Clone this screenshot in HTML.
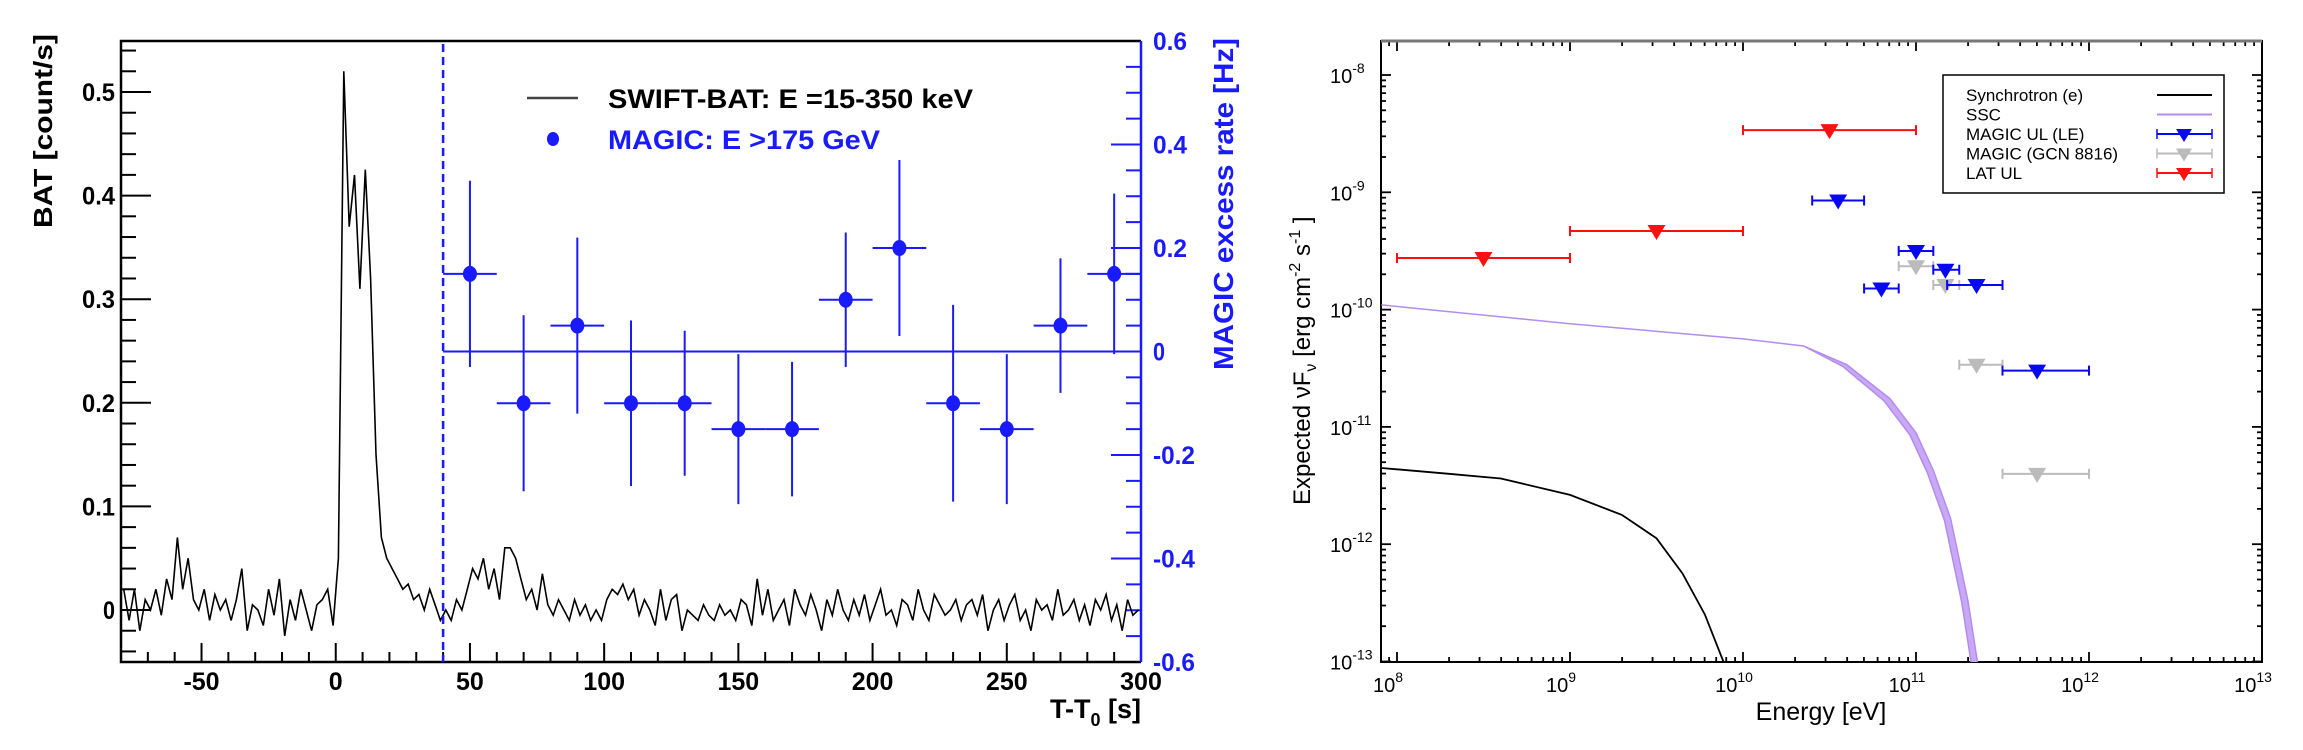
<!DOCTYPE html>
<html><head><meta charset="utf-8"><style>
html,body{margin:0;padding:0;background:#fff;}
svg{display:block;}
text{font-family:"Liberation Sans",sans-serif;}
</style></head><body>
<svg id="fig" width="2303" height="750" viewBox="0 0 2303 750" xmlns="http://www.w3.org/2000/svg">
<g id="left"></g>
<g id="right"></g>
</svg>
<script>
// ---------- Left panel data ----------
const batStart = -79; const batStep = 2;
const batRate = [0.02,-0.01,0.02,-0.02,0.01,0.0,0.02,-0.005,0.03,0.01,
0.07,0.02,0.05,0.01,0.0,0.02,-0.01,0.015,0.0,0.01,
-0.01,0.01,0.04,-0.02,0.005,0.0,-0.015,0.02,-0.005,0.03,
-0.025,0.01,-0.01,0.02,0.0,-0.02,0.005,0.01,0.02,-0.015,
0.05,0.52,0.37,0.42,0.31,0.425,0.32,0.15,0.07,0.05,0.04,0.03,0.02,0.025,0.01,0.015,0.0,0.02,0.005,-0.01,
0.0,-0.01,0.01,0.0,0.02,0.04,0.03,0.05,0.02,0.04,
0.01,0.06,0.06,0.05,0.03,0.01,0.02,0.0,0.035,0.005,
-0.005,0.01,0.0,-0.01,0.01,-0.005,0.005,-0.01,0.0,-0.01,
0.01,0.02,0.015,0.025,0.01,0.02,-0.005,0.01,0.0,-0.015,
0.02,-0.01,0.01,0.015,-0.02,0.0,-0.005,-0.01,0.005,-0.005,
-0.01,0.005,-0.005,0.0,-0.01,0.01,0.005,-0.015,0.03,-0.005,
0.02,-0.01,0.0,0.01,-0.015,0.02,0.005,-0.005,0.015,0.0,
-0.02,0.01,-0.005,0.02,0.0,-0.01,0.01,-0.005,0.015,-0.01,
0.005,0.02,-0.005,0.0,-0.015,0.01,0.005,-0.01,0.02,0.0,
-0.01,0.015,0.005,-0.005,0.0,0.01,-0.01,0.005,0.01,-0.005,
0.015,-0.02,0.0,0.01,-0.01,0.005,0.015,-0.01,0.0,-0.02,
0.01,0.0,0.005,-0.01,0.02,-0.005,0.0,0.01,-0.01,0.005,
-0.015,0.01,0.0,0.015,-0.01,0.005,-0.02,0.01,-0.005,0.0];
const magicT = [50,70,90,110,130,150,170,190,210,230,250,270,290];
const magicRate = [0.15,-0.1,0.05,-0.1,-0.1,-0.15,-0.15,0.1,0.2,-0.1,-0.15,0.05,0.15];
const magicErr = [0.18,0.17,0.17,0.16,0.14,0.145,0.13,0.13,0.17,0.19,0.145,0.13,0.155];
const magicXErr = 10;
const xTicksL = [-50,0,50,100,150,200,250,300];
const yTicksL = [0,0.1,0.2,0.3,0.4,0.5];
const yTicksR = [-0.6,-0.4,-0.2,0,0.2,0.4,0.6];

// ---------- Right panel data ----------
const syncLogE = [7.91,8.3,8.6,9.0,9.3,9.5,9.65,9.78,9.9];
const syncLogF = [-11.35,-11.4,-11.44,-11.58,-11.75,-11.95,-12.25,-12.6,-13.05];
const sscLogE = [7.91,9.0,10.0,10.35,10.6,10.85,11.0,11.1,11.2,11.3,11.36];
const sscLogF = [-9.96,-10.12,-10.25,-10.31,-10.47,-10.76,-11.05,-11.37,-11.78,-12.48,-13.05];
const latE = [8.5,9.5,10.5]; const latLo=[8,9,10]; const latHi=[9,10,11];
const latF = [-9.56,-9.33,-8.47];
const leE = [10.55,11.0,11.17,10.8,11.35,11.7]; const leLo=[10.4,10.9,11.1,10.7,11.18,11.5]; const leHi=[10.7,11.1,11.25,10.9,11.5,12];
const leF = [-9.07,-9.5,-9.66,-9.82,-9.79,-10.52];
const gcnE = [11.0,11.17,11.35,11.7]; const gcnLo=[10.9,11.1,11.25,11.5]; const gcnHi=[11.1,11.25,11.5,12];
const gcnF = [-9.63,-9.79,-10.47,-11.4];
const xDecR = [8,9,10,11,12,13];
const yDecR = [-13,-12,-11,-10,-9,-8];

const NS="http://www.w3.org/2000/svg";
function mk(parent,tag,attrs,txt){const e=document.createElementNS(NS,tag);for(const k in attrs)e.setAttribute(k,attrs[k]);if(txt!==undefined)e.textContent=txt;parent.appendChild(e);return e;}

// ===== Left panel =====
const L=document.getElementById('left');
const lx0=121,lx1=1141,ly0=41,ly1=662;
const xL=t=>lx0+(t+80)*(lx1-lx0)/380;
const yL=v=>610-v*1036;
const yR=v=>351.5-v*517.5;
for(let v=-0.04;v<=0.545;v+=0.02){const r=Math.round(v*100);const maj=r%10===0;
 const e=mk(L,'line',{x1:lx0,x2:lx0+(maj?30:15),y1:yL(v),y2:yL(v),stroke:'#000','stroke-width':2});
 }
yTicksL.forEach(v=>{const e=mk(L,'text',{x:115,y:yL(v)+9,'text-anchor':'end','font-size':25,'font-weight':'bold',fill:'#000',textLength:v===0?12:33,lengthAdjust:'spacingAndGlyphs'},v===0?'0':v.toFixed(1));
 });
for(let t=-70;t<=300;t+=10){const maj=t%50===0;
 const e=mk(L,'line',{x1:xL(t),x2:xL(t),y1:ly1,y2:ly1-(maj?19:10),stroke:'#000','stroke-width':2});
 }
xTicksL.forEach(t=>{const e=mk(L,'text',{x:xL(t),y:690,'text-anchor':'middle','font-size':25,'font-weight':'bold',fill:'#000'},String(t));
 });
for(let v=-0.55;v<=0.56;v+=0.05){const r=Math.round(v*100);const maj=r%20===0;
 const e=mk(L,'line',{x1:lx1,x2:lx1-(maj?30:15),y1:yR(v),y2:yR(v),stroke:'#1a1aff','stroke-width':2});
 }
yTicksR.forEach(v=>{const e=mk(L,'text',{x:1153,y:yR(v)+9,'font-size':25,'font-weight':'bold',fill:'#1a1aff',textLength:v===0?12:(v<0?42:34),lengthAdjust:'spacingAndGlyphs'},v===0?'0':v.toFixed(1));
 });
let f=mk(L,'polyline',{points:`${lx1},${ly0} ${lx0},${ly0} ${lx0},${ly1} ${lx1},${ly1}`,fill:'none',stroke:'#000','stroke-width':2.5});

f=mk(L,'line',{x1:lx1,x2:lx1,y1:ly0,y2:ly1,stroke:'#1a1aff','stroke-width':2.5});

let pts=batRate.map((v,i)=>`${xL(batStart+i*batStep).toFixed(1)},${yL(v).toFixed(1)}`).join(' ');
f=mk(L,'polyline',{points:pts,fill:'none',stroke:'#000','stroke-width':1.6});

f=mk(L,'line',{x1:xL(40),x2:xL(40),y1:ly0+3,y2:ly1,stroke:'#1a1aff','stroke-width':2.5,'stroke-dasharray':'8,5'});

f=mk(L,'line',{x1:xL(40),x2:lx1,y1:yR(0),y2:yR(0),stroke:'#1a1aff','stroke-width':2});

magicT.forEach((t,i)=>{const g=mk(L,'g',{});
 
 mk(g,'line',{x1:xL(t-magicXErr),x2:xL(t+magicXErr),y1:yR(magicRate[i]),y2:yR(magicRate[i]),stroke:'#1a1aff','stroke-width':2});
 mk(g,'line',{x1:xL(t),x2:xL(t),y1:yR(magicRate[i]+magicErr[i]),y2:yR(magicRate[i]-magicErr[i]),stroke:'#1a1aff','stroke-width':2});
 mk(g,'ellipse',{cx:xL(t),cy:yR(magicRate[i]),rx:7,ry:8,fill:'#1a1aff'});});
f=mk(L,'line',{x1:527,x2:578,y1:98,y2:98,stroke:'#444','stroke-width':2.5});

f=mk(L,'text',{x:608,y:108,'font-size':27,'font-weight':'bold',fill:'#000',textLength:365,lengthAdjust:'spacingAndGlyphs'},'SWIFT-BAT: E =15-350 keV');

f=mk(L,'ellipse',{cx:553,cy:139,rx:6,ry:7,fill:'#1a1aff'});

f=mk(L,'text',{x:608,y:149,'font-size':27,'font-weight':'bold',fill:'#1a1aff',textLength:272,lengthAdjust:'spacingAndGlyphs'},'MAGIC: E >175 GeV');

f=mk(L,'text',{x:0,y:0,transform:'translate(52,228) rotate(-90)','font-size':26,'font-weight':'bold',fill:'#000',textLength:194,lengthAdjust:'spacingAndGlyphs'},'BAT [count/s]');

f=mk(L,'text',{x:0,y:0,transform:'translate(1233,370) rotate(-90)','font-size':28,'font-weight':'bold',fill:'#1a1aff',textLength:332,lengthAdjust:'spacingAndGlyphs'},'MAGIC excess rate [Hz]');

f=mk(L,'text',{x:1050,y:718,'font-size':27,'font-weight':'bold',fill:'#000'});

mk(f,'tspan',{},'T-T');mk(f,'tspan',{dy:8,'font-size':18},'0');mk(f,'tspan',{dy:-8},' [s]');

// ===== Right panel =====
const R=document.getElementById('right');
const rx0=1381,rx1=2262,ry0=41,ry1=662;
const xE=le=>1397+(le-8)*173;
const yF=lf=>75+(-8-lf)*117.3;
for(let d=7;d<13;d++)for(let k=1;k<10;k++){const le=d+Math.log10(k);const x=xE(le);if(x<rx0||x>rx1)continue;
 const len=k===1?10:5;
 [[ry1,ry1-len],[ry0,ry0+len]].forEach(p=>{const e=mk(R,'line',{x1:x,x2:x,y1:p[0],y2:p[1],stroke:'#000','stroke-width':1.8});
 });}
for(let d=-14;d<-7;d++)for(let k=1;k<10;k++){const lf=d+Math.log10(k);const y=yF(lf);if(y<ry0||y>ry1)continue;
 const len=k===1?10:5;
 [[rx0,rx0+len],[rx1,rx1-len]].forEach(p=>{const e=mk(R,'line',{x1:p[0],x2:p[1],y1:y,y2:y,stroke:'#000','stroke-width':1.8});
 });}
f=mk(R,'rect',{x:rx0,y:ry0,width:rx1-rx0,height:ry1-ry0,fill:'none',stroke:'#000','stroke-width':2});

f=mk(R,'line',{x1:rx0,x2:rx1,y1:ry0,y2:ry0,stroke:'#777','stroke-width':3});

xDecR.forEach(d=>{const e=mk(R,'text',{x:xE(d)-9,y:692,'font-size':20,fill:'#000','text-anchor':'middle'});
 
 mk(e,'tspan',{},'10');mk(e,'tspan',{dy:-10,'font-size':14},String(d));});
yDecR.forEach(d=>{const e=mk(R,'text',{x:1330,y:yF(d)+8,'font-size':20,fill:'#000'});
 
 mk(e,'tspan',{},'10');mk(e,'tspan',{dy:-10,'font-size':14},String(d));});
f=mk(R,'text',{x:1821,y:720,'font-size':25,fill:'#000','text-anchor':'middle'},'Energy [eV]');

f=mk(R,'text',{x:0,y:0,transform:'translate(1310,505) rotate(-90)','font-size':24,fill:'#000'});

mk(f,'tspan',{},'Expected νF');mk(f,'tspan',{dy:6,'font-size':16},'ν');mk(f,'tspan',{dy:-6},' [erg cm');
mk(f,'tspan',{dy:-10,'font-size':16},'-2');mk(f,'tspan',{dy:10},' s');mk(f,'tspan',{dy:-10,'font-size':16},'-1');mk(f,'tspan',{dy:10},' ]');
const cp=mk(R,'clipPath',{id:'rclip'});mk(cp,'rect',{x:rx0,y:ry0,width:rx1-rx0,height:ry1-ry0});
const cg=mk(R,'g',{'clip-path':'url(#rclip)'});

pts=syncLogE.map((e,i)=>`${xE(e).toFixed(1)},${yF(syncLogF[i]).toFixed(1)}`).join(' ');
f=mk(cg,'polyline',{points:pts,fill:'none',stroke:'#000','stroke-width':1.8});

// SSC band: upper edge is the curve, lower edge slightly shifted to the left in the cutoff
const upper=sscLogE.map((e,i)=>`${xE(e).toFixed(1)},${yF(sscLogF[i]).toFixed(1)}`);
const lower=sscLogE.map((e,i)=>{const w=(e>10.35?Math.min(0.035,(e-10.35)*0.1):0);return `${(xE(e)-w*173).toFixed(1)},${(yF(sscLogF[i])+w*60).toFixed(1)}`;}).reverse();
f=mk(cg,'polygon',{points:upper.concat(lower).join(' '),fill:'#c9a8f5',stroke:'#b38cf0','stroke-width':1.5});

function ul(E,lo,hi,F,col,name){E.forEach((e,i)=>{const g=mk(cg,'g',{});
 
 const y=yF(F[i]),x=xE(e);
 mk(g,'line',{x1:xE(lo[i]),x2:xE(hi[i]),y1:y,y2:y,stroke:col,'stroke-width':2});
 mk(g,'line',{x1:xE(lo[i]),x2:xE(lo[i]),y1:y-5,y2:y+5,stroke:col,'stroke-width':2});
 mk(g,'line',{x1:xE(hi[i]),x2:xE(hi[i]),y1:y-5,y2:y+5,stroke:col,'stroke-width':2});
 mk(g,'polygon',{points:`${x-9},${y-6} ${x+9},${y-6} ${x},${y+9}`,fill:col});});}
ul(latE,latLo,latHi,latF,'#ff1010','lat-ul');
ul(gcnE,gcnLo,gcnHi,gcnF,'#bbbbbb','magic-gcn-ul');
ul(leE,leLo,leHi,leF,'#0808f0','magic-le-ul');
const lg=mk(R,'g',{});
mk(lg,'rect',{x:1943,y:75,width:281,height:118,fill:'#fff',stroke:'#000','stroke-width':1.5});
const labs=['Synchrotron (e)','SSC','MAGIC UL (LE)','MAGIC (GCN 8816)','LAT UL'];
const cols=['#000','#b38cf0','#0808f0','#bbbbbb','#ff1010'];
labs.forEach((s,i)=>{const y=95+i*19.5;const g=mk(lg,'g',{});
 
 mk(g,'text',{x:1966,y:y+6,'font-size':17,fill:'#000'},s);
 mk(g,'line',{x1:2157,x2:2212,y1:y,y2:y,stroke:cols[i],'stroke-width':2});
 if(i>=2){mk(g,'line',{x1:2157,x2:2157,y1:y-5,y2:y+5,stroke:cols[i],'stroke-width':1.5});
  mk(g,'line',{x1:2212,x2:2212,y1:y-5,y2:y+5,stroke:cols[i],'stroke-width':1.5});
  mk(g,'polygon',{points:`${2184-8},${y-5} ${2184+8},${y-5} ${2184},${y+8}`,fill:cols[i]});}});
</script>
</body></html>
